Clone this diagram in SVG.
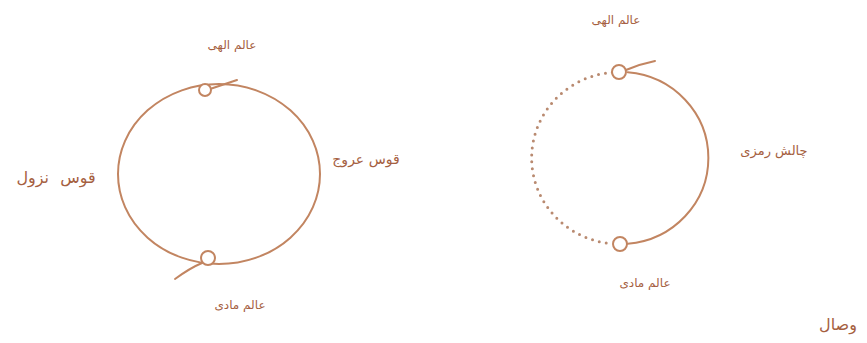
<svg xmlns="http://www.w3.org/2000/svg" width="867" height="343" viewBox="0 0 867 343">
<style>
.ln{fill:none;stroke:#c28561;stroke-width:2;stroke-linecap:round}
.dot{fill:none;stroke:#b98a70;stroke-width:3;stroke-linecap:round;stroke-dasharray:0 7}
.nd{fill:#fff;stroke:#c28561;stroke-width:2}
.t{font-family:"DejaVu Sans",sans-serif;fill:#a5603f;text-anchor:middle;direction:rtl}
</style>
<rect width="867" height="343" fill="#fff"/>
<g id="connectors">
  <ellipse class="ln" cx="219" cy="174" rx="101" ry="90"/>
  <path class="ln" d="M210 89 L237 80"/>
  <path class="ln" d="M202 263 Q190 268 175 279"/>
  <path class="ln" d="M627.7 72.3 A88 86 0 0 1 627.7 243.7"/>
  <path class="ln" d="M626 70 Q640 64 655 61"/>
  <path class="dot" d="M612.3 72.3 A88 86 0 0 0 612.3 243.7"/>
</g>
<g id="left-top"><circle class="nd" cx="205" cy="90" r="6"/><text class="t" x="232" y="49" font-size="12">عالم الهی</text></g>
<g id="left-bottom"><circle class="nd" cx="208" cy="258" r="7"/><text class="t" x="240" y="309" font-size="12">عالم مادی</text></g>
<g id="nozul"><text class="t" x="56" y="183" font-size="16" word-spacing="6">قوس نزول</text></g>
<g id="oruj"><text class="t" x="366" y="164" font-size="14">قوس عروج</text></g>
<g id="right-top"><circle class="nd" cx="619" cy="72" r="7"/><text class="t" x="616" y="24" font-size="12">عالم الهی</text></g>
<g id="right-bottom"><circle class="nd" cx="620" cy="244" r="7"/><text class="t" x="645" y="287" font-size="12">عالم مادی</text></g>
<g id="chalesh"><text class="t" x="774" y="155" font-size="13">چالش رمزی</text></g>
<g id="vesal"><text class="t" x="838" y="330" font-size="16">وصال</text></g>
</svg>
